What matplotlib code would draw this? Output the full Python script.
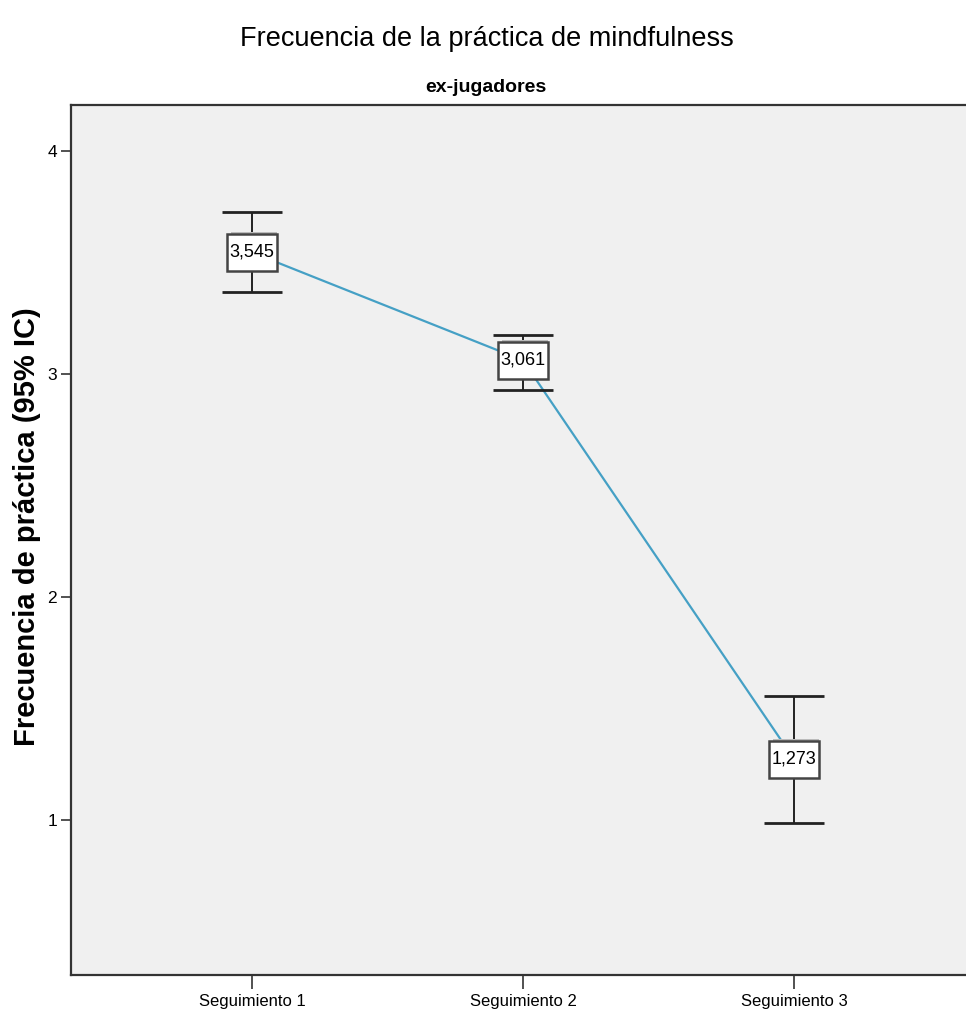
import matplotlib
matplotlib.use("Agg")
import matplotlib.pyplot as plt
from matplotlib.patches import Rectangle
from matplotlib.transforms import ScaledTranslation

categories = ['Seguimiento 1', 'Seguimiento 2', 'Seguimiento 3']
means = [3.545, 3.061, 1.273]
ci_low = [3.368, 2.930, 0.987]
ci_high = [3.726, 3.175, 1.556]
mean_labels = ['3,545', '3,061', '1,273']
yticks = [1, 2, 3, 4]

ARIAL = ['Liberation Sans', 'DejaVu Sans']

fig = plt.figure(figsize=(9.66, 10.18), dpi=100)
ax = fig.add_axes([71/966, 43/1018, 1 - 71/966, (975-105)/1018])
ax.set_facecolor('#F0F0F0')

x = [1, 2, 3]
ax.plot(x, means, color='#45A0C5', lw=1.6, zorder=2)
yerr = [[m - l for m, l in zip(means, ci_low)], [h - m for m, h in zip(means, ci_high)]]
ax.errorbar(x, means, yerr=yerr, fmt='none', ecolor='#222222', elinewidth=1.4,
            capsize=21.6, capthick=2.0, zorder=3)
for xi, m, lab in zip(x, means, mean_labels):
    off = fig.dpi_scale_trans + ScaledTranslation(xi, m, ax.transData)
    ax.add_patch(Rectangle((-0.21, -0.16), 0.46, 0.36, transform=off,
                           fc='#BBBBBB', ec='none', zorder=4, clip_on=False))
    ax.add_patch(Rectangle((-0.25, -0.19), 0.50, 0.37, transform=off,
                           fc='white', ec='#444444', lw=1.8, zorder=5, clip_on=False))
    ax.text(xi, m, lab, ha='center', va='center', fontsize=13, family=ARIAL,
            zorder=6)

ax.set_xlim(1 - 181/271, 3 + 172/271)
ax.set_ylim(0.305, 4.206)
ax.set_xticks(x)
ax.set_xticklabels(categories, family=ARIAL, fontsize=12)
ax.set_yticks(yticks)
ax.set_yticklabels([str(t) for t in yticks], family=ARIAL, fontsize=12.5)
ax.tick_params(axis='x', length=10, width=1.2, color='#333333', pad=4)
ax.tick_params(axis='y', length=7, width=1.2, color='#333333', pad=3)
for s in ['left', 'bottom', 'top']:
    ax.spines[s].set_color('#333333')
    ax.spines[s].set_linewidth(1.6)
ax.spines['right'].set_visible(False)

fig.text(27/966, 1 - 527/1018, 'Frecuencia de práctica (95% IC)', rotation=90,
         ha='center', va='center', family=ARIAL, fontweight='bold', fontsize=21)

fig.text(487/966, 1 - 39/1018, 'Frecuencia de la práctica de mindfulness',
         ha='center', va='center', family=ARIAL, fontsize=19.5)
fig.text(486/966, 1 - 88/1018, 'ex-jugadores', ha='center', va='center',
         family=ARIAL, fontsize=14, fontweight='bold')

fig.savefig('out.png', dpi=100)
